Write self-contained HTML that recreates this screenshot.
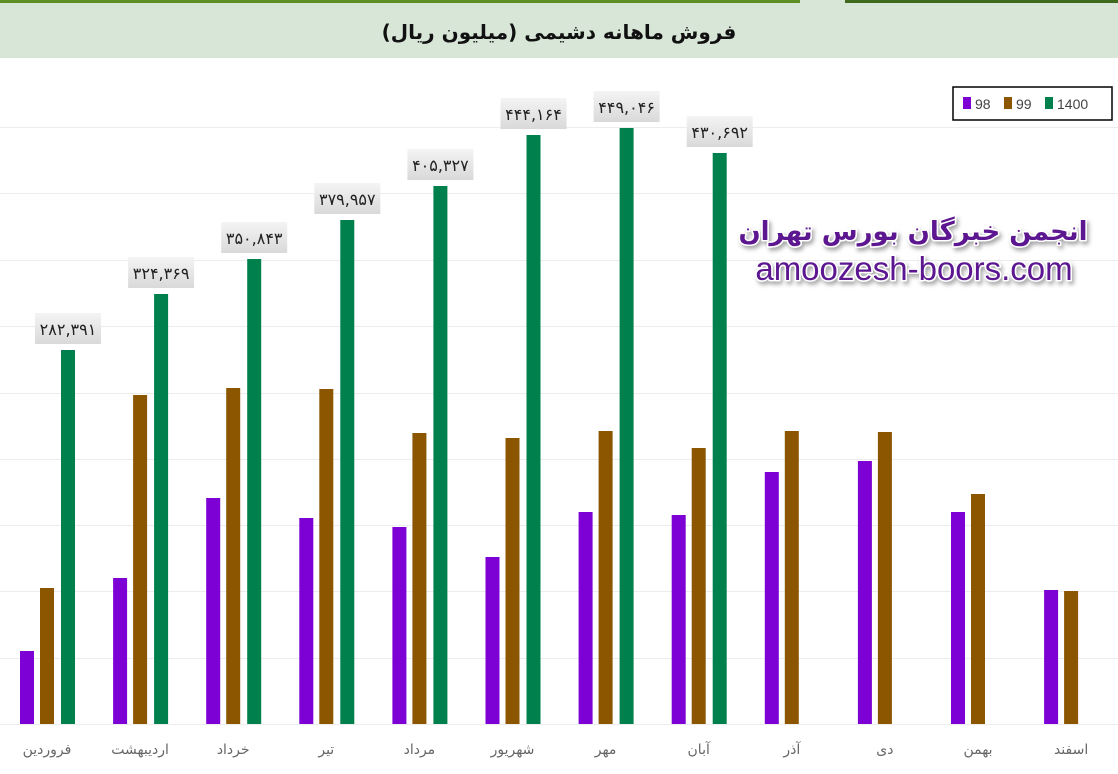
<!DOCTYPE html>
<html><head><meta charset="utf-8"><style>
body{margin:0;width:1118px;height:769px;overflow:hidden;background:#fff;font-family:"Liberation Sans","DejaVu Sans",sans-serif}
</style></head><body>
<svg width="1118" height="769" xmlns="http://www.w3.org/2000/svg">
<defs>
<filter id="sh" x="-10%" y="-10%" width="130%" height="140%"><feDropShadow dx="2" dy="3" stdDeviation="2" flood-color="#000" flood-opacity="0.35"/></filter>
<linearGradient id="lb" x1="0" y1="0" x2="0" y2="1"><stop offset="0" stop-color="#f4f4f4"/><stop offset="1" stop-color="#d9d9d9"/></linearGradient>
</defs>
<rect x="0" y="0" width="1118" height="58" fill="#d8e6d8"/>
<rect x="0" y="0" width="800" height="3" fill="#5f8f22"/>
<rect x="845" y="0" width="273" height="3" fill="#3f6a1c"/>
<text x="559" y="39" text-anchor="middle" font-family="'DejaVu Sans','Noto Sans CJK SC',sans-serif" font-size="20" font-weight="bold" fill="#111" direction="rtl">فروش ماهانه دشیمی (میلیون ریال)</text>
<g stroke="#ececec" stroke-width="1">
<line x1="0" x2="1118" y1="127.5" y2="127.5"/><line x1="0" x2="1118" y1="193.5" y2="193.5"/>
<line x1="0" x2="1118" y1="260.5" y2="260.5"/><line x1="0" x2="1118" y1="326.5" y2="326.5"/>
<line x1="0" x2="1118" y1="393.5" y2="393.5"/><line x1="0" x2="1118" y1="459.5" y2="459.5"/>
<line x1="0" x2="1118" y1="525.5" y2="525.5"/><line x1="0" x2="1118" y1="591.5" y2="591.5"/>
<line x1="0" x2="1118" y1="658.5" y2="658.5"/><line x1="0" x2="1118" y1="724.5" y2="724.5"/>
</g>
<g id="bars"></g>
<rect x="953" y="87" width="159" height="33" fill="#fff" stroke="#000" stroke-width="1.5"/>
<rect x="963" y="97" width="8" height="12" fill="#7d00d4"/><text x="975" y="109" font-size="14" fill="#444">98</text>
<rect x="1004" y="97" width="8" height="12" fill="#8c5600"/><text x="1016" y="109" font-size="14" fill="#444">99</text>
<rect x="1045" y="97" width="8" height="12" fill="#00804d"/><text x="1057" y="109" font-size="14" fill="#444">1400</text>
<g text-anchor="middle" fill="#5c1690" stroke="#fff" stroke-width="3" paint-order="stroke" stroke-linejoin="round" filter="url(#sh)">
<text x="913" y="240" font-size="26" font-weight="bold" font-family="'DejaVu Sans',sans-serif" direction="rtl">انجمن خبرگان بورس تهران</text>
<text x="914" y="280" font-size="33">amoozesh-boors.com</text>
</g>
</svg>
<script>
const P=[651,578,498,518,527,557,512,515,472,461,512,590];
const B=[588,395,388,389,433,438,431,448,431,432,494,591];
const G=[350,294,259,220,186,135,128,153];
const L=["۲۸۲,۳۹۱","۳۲۴,۳۶۹","۳۵۰,۸۴۳","۳۷۹,۹۵۷","۴۰۵,۳۲۷","۴۴۴,۱۶۴","۴۴۹,۰۴۶","۴۳۰,۶۹۲"];
const M=["فروردین","اردیبهشت","خرداد","تیر","مرداد","شهریور","مهر","آبان","آذر","دی","بهمن","اسفند"];
let s="";
for(let i=0;i<12;i++){const x=20+i*93.1;
s+=`<rect x="${x}" y="${P[i]}" width="14" height="${724-P[i]}" fill="#7d00d4"/>`;
s+=`<rect x="${x+20}" y="${B[i]}" width="14" height="${724-B[i]}" fill="#8c5600"/>`;
if(i<8){s+=`<rect x="${x+41}" y="${G[i]}" width="14" height="${724-G[i]}" fill="#00804d"/>`;
s+=`<rect x="${x+15}" y="${G[i]-37}" width="66" height="31" fill="url(#lb)"/>`;
s+=`<text x="${x+48}" y="${G[i]-15}" text-anchor="middle" font-size="16" font-family="'DejaVu Sans',sans-serif" fill="#222">${L[i]}</text>`;}
s+=`<text x="${x+27}" y="754" text-anchor="middle" font-size="14" font-family="'DejaVu Sans',sans-serif" fill="#666">${M[i]}</text>`;}
document.getElementById("bars").innerHTML=s;
</script>
</body></html>
